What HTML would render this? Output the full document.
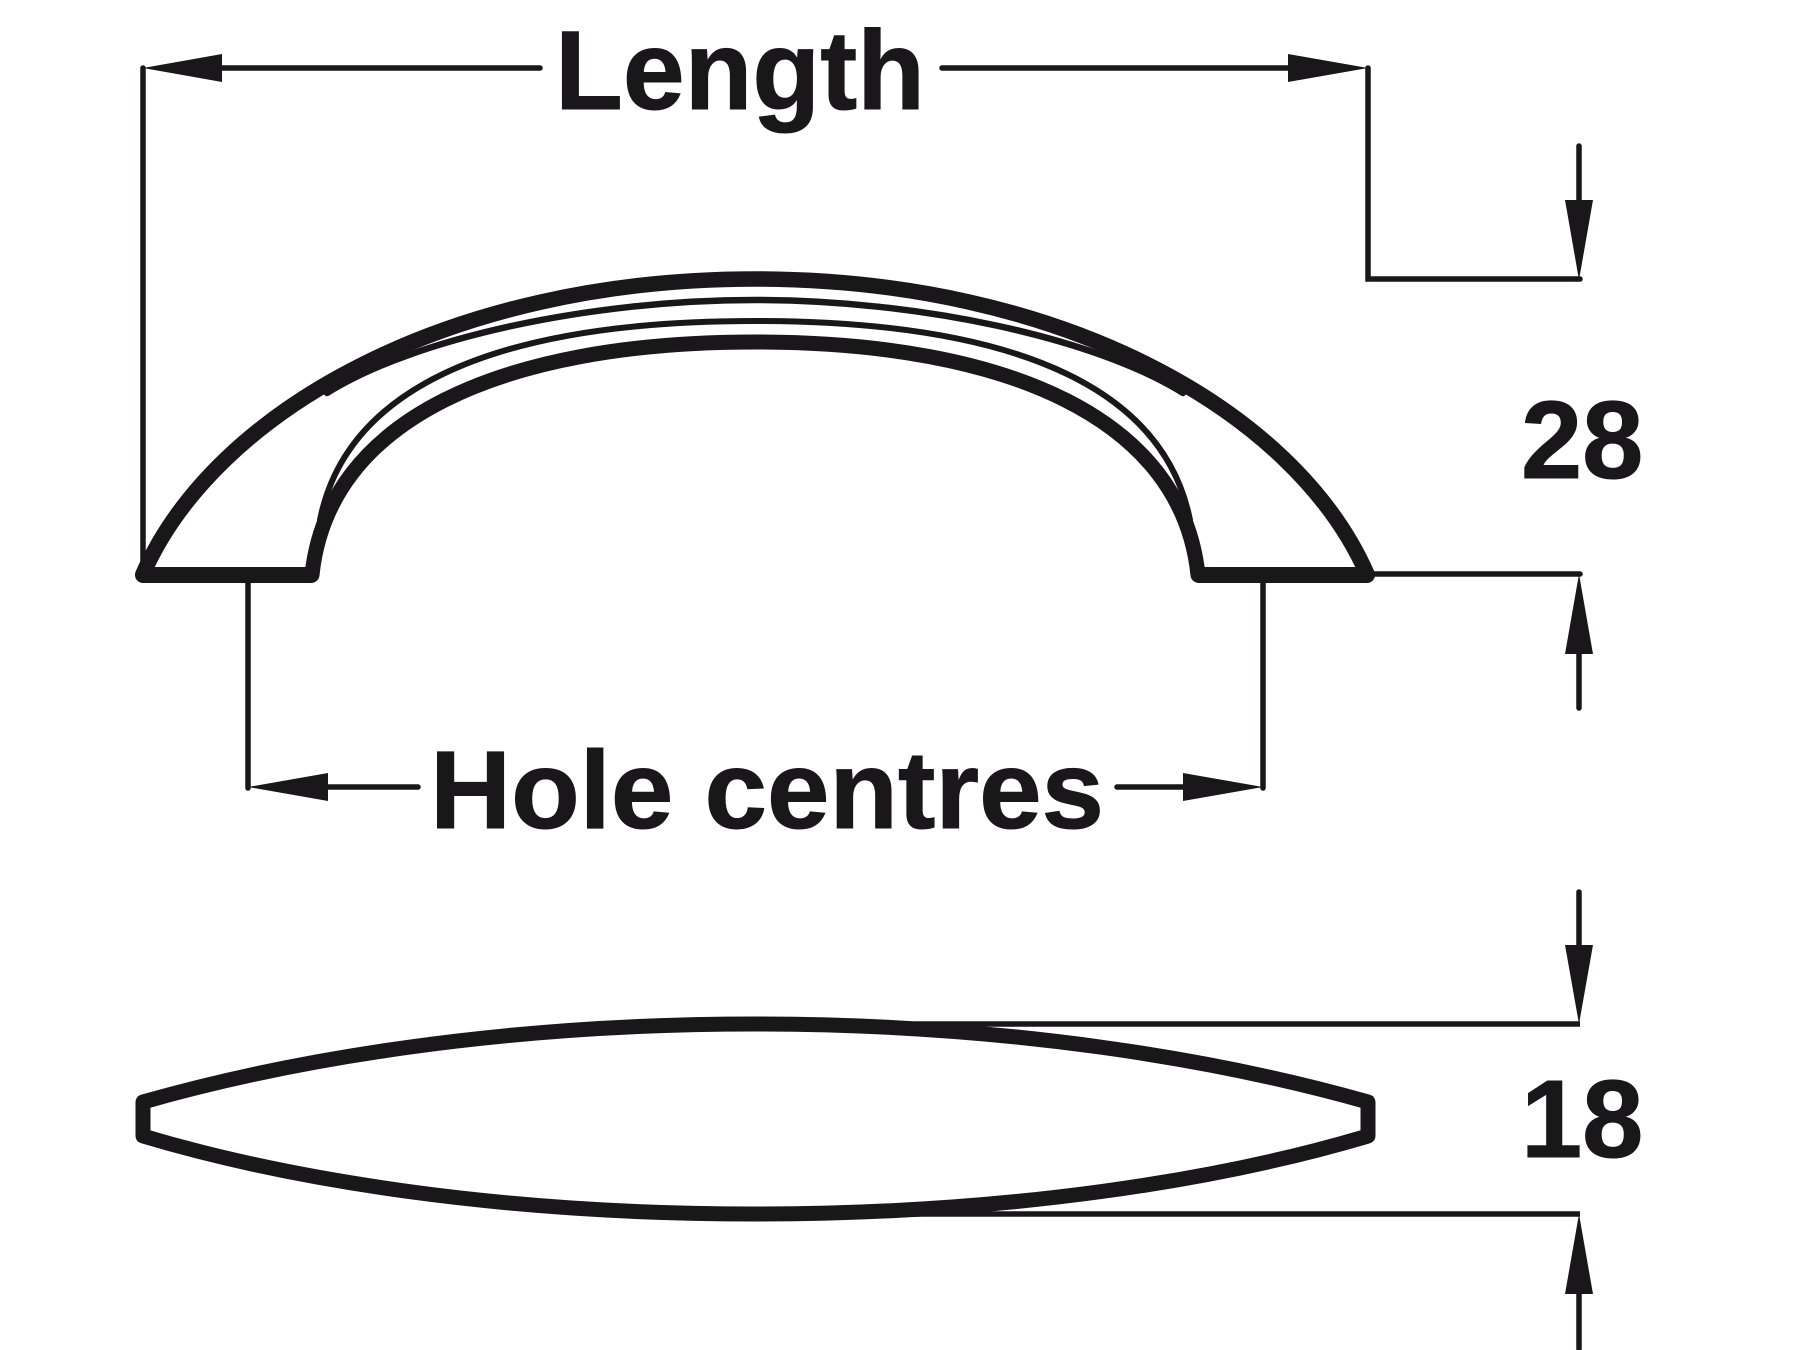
<!DOCTYPE html>
<html>
<head>
<meta charset="utf-8">
<style>
html,body{margin:0;padding:0;background:#fff;width:1800px;height:1350px;overflow:hidden}
svg{display:block}
text{font-family:"Liberation Sans",Arial,sans-serif;font-weight:bold;fill:#1a171b;stroke:#1a171b;stroke-width:1}
</style>
</head>
<body>
<svg width="1800" height="1350" viewBox="0 0 1800 1350" xmlns="http://www.w3.org/2000/svg">
<rect width="1800" height="1350" fill="#fff"/>
<g fill="none" stroke="#1a171b" stroke-linecap="round" stroke-linejoin="round">
  <!-- handle front: outer and inner arcs -->
  <path stroke-width="15.5" d="M143,574 C215,410 450,279 755,279 C1060,279 1295,410 1367,574"/>
  <path stroke-width="15" d="M312,575 C328,420 500,342 755,342 C1010,342 1182,420 1198,575"/>
  <!-- thin contour lines -->
  <path stroke-width="6.5" d="M327,393 C415,338 590,300 755,300 C920,300 1095,338 1183,393"/>
  <path stroke-width="6" d="M320,520 C345,395 480,321 755,321 C1030,321 1165,395 1190,520"/>
  <!-- feet -->
  <path stroke-width="16" d="M143,575 H311 M1199,575 H1367"/>
  <!-- handle top view -->
  <path stroke-width="15" d="M143,1102 C290,1060 500,1024 755,1024 C1010,1024 1220,1060 1368,1102 L1368,1136 C1220,1180 1010,1214 755,1214 C500,1214 290,1180 143,1136 Z"/>
</g>
<g fill="none" stroke="#1a171b" stroke-width="5.5" stroke-linecap="round">
  <!-- length -->
  <path d="M143,68 V570"/>
  <path d="M222,68 H540"/>
  <path d="M942,68 H1288"/>
  <path d="M1368,68 V279 H1580"/>
  <path d="M1579,146 V200"/>
  <!-- 28 -->
  <path d="M1374,574 H1580"/>
  <path d="M1579,654 V708"/>
  <!-- hole centres -->
  <path d="M248,583 V788"/>
  <path d="M1263,583 V788"/>
  <path d="M328,787 H418"/>
  <path d="M1117,787 H1183"/>
  <!-- 18 -->
  <path d="M915,1024 H1580" stroke-linecap="butt"/>
  <path d="M915,1214 H1580" stroke-linecap="butt"/>
  <path d="M1579,892 V945"/>
  <path d="M1579,1294 V1349"/>
</g>
<g fill="#1a171b">
  <polygon points="143,68 222,54 222,82"/>
  <polygon points="1368,68 1288,54 1288,82"/>
  <polygon points="1579,280 1565,200 1593,200"/>
  <polygon points="1579,574 1565,654 1593,654"/>
  <polygon points="248,787 328,773 328,801"/>
  <polygon points="1263,787 1183,773 1183,801"/>
  <polygon points="1579,1024 1565,945 1593,945"/>
  <polygon points="1579,1214 1565,1294 1593,1294"/>
</g>
<text x="555" y="109" font-size="112" textLength="370" lengthAdjust="spacingAndGlyphs">Length</text>
<text x="430" y="828" font-size="110" textLength="674" lengthAdjust="spacingAndGlyphs">Hole centres</text>
<text x="1521" y="478" font-size="110">28</text>
<text x="1521" y="1157" font-size="110">18</text>
</svg>
</body>
</html>
